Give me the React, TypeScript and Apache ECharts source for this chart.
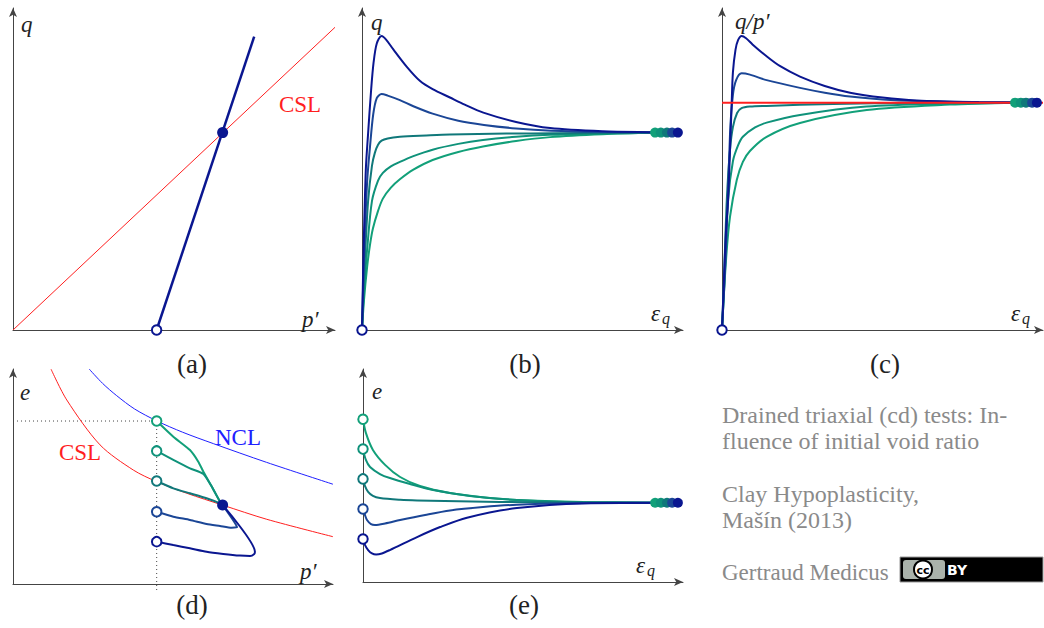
import React, { useEffect, useRef } from 'react';
import * as echarts from 'echarts';

// colours from loosest (green) to densest (navy)
const COLORS = ['#12a079', '#0f927a', '#10787a', '#1b4696', '#0a1690'];
const RED = '#ff1f1f';
const BLUE = '#2020ff';
const AXIS = '#444444';
const TEXT = '#222222';
const GREY = '#8a8a8a';

// ---------- panel (a): q – p'
const A_CSL = [[0, 0], [100, 94]];
const A_PATH = [[44.6, 0], [74.9, 91.1]];
const A_START = [44.6, 0];
const A_END = [65.1, 61.3];

// ---------- panel (b): q – eps_q (loosest -> densest)
const B_CURVES = [
  [[0, 0], [0.6, 9], [1.6, 19.6], [2.5, 26.5], [3.4, 31.5], [5, 37], [6.5, 40.8], [9, 44.2], [11.8, 46.8], [16, 49.8], [22, 52.8], [30, 55.3], [37.7, 57], [48, 58.7], [58.6, 59.9], [75, 60.8], [91.3, 61.3]],
  [[0, 0], [0.6, 12], [1.6, 25], [3.1, 40], [5, 46.4], [6.5, 48.8], [9, 50.8], [11.8, 52.2], [16, 54], [22, 56], [30, 57.8], [37.7, 59], [48, 60], [58.6, 60.6], [75, 61], [93.1, 61.3]],
  [[0, 0], [0.9, 22], [1.9, 40], [3.1, 51], [4, 55], [5, 57.5], [6.1, 58.8], [8, 59.5], [11.8, 60], [20, 60.4], [27.4, 60.7], [45, 61], [60, 61.1], [80, 61.2], [95, 61.3]],
  [[0, 0], [0.6, 22], [1.6, 46], [2.5, 57], [3.5, 67], [4.6, 72], [6.1, 73.3], [8, 72.8], [11.8, 71.4], [16, 69.5], [22, 67.2], [30, 65], [38, 63.7], [48, 62.6], [59, 61.9], [75, 61.5], [96.6, 61.3]],
  [[0, 0], [0.5, 25], [1.2, 50], [1.9, 61], [2.8, 74], [3.6, 83], [4.6, 89], [6.1, 91.3], [7.5, 90.2], [9.7, 87.2], [13.9, 81.8], [18.1, 77.3], [22, 74.8], [27.4, 72.2], [32, 70], [37.8, 67.5], [48, 64.6], [58.6, 62.7], [75, 61.7], [90, 61.4], [98.4, 61.3]],
];

// ---------- panel (c): q/p' – eps_q
const C_M = 70.6;
const C_CURVES = [
  [[0, 0], [1.25, 21.7], [2.5, 35.2], [4.6, 46.6], [6.5, 52.2], [8.7, 55.6], [13.9, 60], [24.3, 64.3], [45.1, 68.3], [71, 70], [91.3, 70.6]],
  [[0, 0], [0.9, 18.6], [1.9, 40.4], [3.4, 52.4], [5, 57.3], [6.5, 60], [10.3, 62.9], [13.9, 64.4], [24.3, 66.8], [45, 69.4], [71, 70.3], [93.1, 70.6]],
  [[0, 0], [0.6, 15.5], [1.5, 40.4], [2.5, 56], [3.4, 63], [4.7, 67.4], [6.1, 68.9], [8.7, 69.4], [13.9, 69.6], [34.6, 70.2], [60, 70.5], [94.7, 70.6]],
  [[0, 0], [1.25, 25], [2.5, 61], [3.4, 73], [4.4, 77.6], [6.1, 79.7], [8.7, 79.3], [13.9, 77.6], [24.3, 75.2], [32, 73.7], [39.9, 72.5], [50, 71.6], [60.7, 71.1], [80, 70.7], [96.6, 70.6]],
  [[0, 0], [0.6, 15.5], [1.25, 31], [1.9, 40.4], [2.5, 56], [3, 70], [3.4, 80], [4.2, 87], [5, 90], [6.1, 91.3], [7.5, 90.6], [9.5, 88.7], [13.9, 85], [18, 82], [24.3, 78.7], [32, 75.8], [39.9, 73.7], [50, 72.2], [60.7, 71.3], [80, 70.8], [98.1, 70.6]],
];

// ---------- panel (d): e – p'
const D_NCL = [[23.8, 100], [28, 93.3], [32.4, 87.6], [38, 81.4], [45, 75.8], [53, 70.6], [62.6, 65.3], [79.2, 56.6], [100, 46.4]];
const D_CSL = [[11.9, 99.9], [16.8, 85.6], [27.2, 64.7], [37.6, 53], [44.9, 47.6], [54.3, 42.2], [65.5, 36.7], [79.3, 30.1], [100, 22]];
const D_PATHS = [
  [[44.9, 75.8], [50.1, 68.5], [55.3, 62.3], [57.9, 56.9], [59.5, 52.2], [62.1, 45.3], [64.7, 38.3], [65.5, 36.7]],
  [[44.9, 61.9], [50.1, 57.7], [55.3, 53.8], [59.5, 51.2], [62.1, 45.3], [64.7, 38.3], [65.5, 36.7]],
  [[44.9, 47.9], [50.1, 44.5], [55.3, 42.2], [60.5, 39.9], [64.7, 37.5], [65.5, 36.7]],
  [[44.9, 33.6], [50.1, 31.3], [55.3, 29.8], [60.5, 27.9], [64.7, 27], [68.3, 26.2], [70, 26.4], [65.5, 36.7]],
  [[44.9, 19.7], [50.1, 18.1], [55.3, 16.6], [60.5, 15], [65.7, 14], [70.9, 13.2], [74.1, 13], [75.4, 14], [75.6, 15], [65.5, 36.7]],
];
const D_P0 = 44.9;
const D_E0 = 75.8;
const D_END = [65.5, 36.7];

// ---------- panel (e): e – eps_q
const E_CURVES = [
  [[0, 76.4], [0.9, 70], [3.1, 62], [6.9, 55], [11.6, 49.3], [17.8, 45.1], [27.2, 41.8], [38.1, 39.7], [48.1, 38.5], [68.8, 37.6], [91.3, 37.2]],
  [[0, 62.4], [0.9, 57.3], [2.2, 54], [5.3, 50.7], [8.4, 48.8], [14.7, 46], [21.9, 43.2], [33.4, 40.4], [48.1, 38.5], [68.8, 37.4], [93.1, 37.2]],
  [[0, 48.4], [0.6, 45.1], [1.6, 42.3], [3.1, 40.4], [5.3, 39.4], [11.6, 38.6], [16.9, 38.3], [42.8, 37.6], [95, 37.2]],
  [[0, 34.3], [0.6, 31.5], [1.25, 29.1], [2.5, 27.2], [3.75, 26.8], [6.9, 27.5], [11.6, 29.1], [19.4, 31.5], [27.2, 33.6], [37.5, 35.2], [48.1, 36.3], [68.8, 37.1], [96.6, 37.2]],
  [[0, 20.2], [0.6, 17.4], [1.6, 15], [2.8, 13.4], [4.1, 12.9], [5.9, 13.4], [8.4, 15], [16.9, 21.1], [24.1, 25.8], [32.5, 30.2], [48.1, 34.7], [68.8, 36.9], [98.4, 37.2]],
];

const PANEL_LABELS = ['(a)', '(b)', '(c)', '(d)', '(e)'];
const INFO_LINES = ['Drained triaxial (cd) tests: In-', 'fluence of initial void ratio', 'Clay Hypoplasticity,', 'Mašín (2013)', 'Gertraud Medicus'];

const SERIF = "'Liberation Serif', 'DejaVu Serif', serif";

function buildOption() {
  const grids = [
    { left: 13, top: 8, width: 322, height: 322 },
    { left: 362, top: 8, width: 321, height: 322 },
    { left: 722, top: 8, width: 321, height: 322 },
    { left: 13, top: 369, width: 320, height: 215 },
    { left: 363, top: 369, width: 320, height: 213 },
  ];
  const axis = (gi: number) => ({
    gridIndex: gi, type: 'value', min: 0, max: 100,
    axisLine: { show: true, onZero: false, lineStyle: { color: AXIS, width: 1 }, symbol: ['none', 'arrow'], symbolSize: [6, 9] },
    axisTick: { show: false }, axisLabel: { show: false }, splitLine: { show: false },
  });
  const line = (gi: number, data: number[][], color: string, width: number, extra: any = {}) => ({
    type: 'line', xAxisIndex: gi, yAxisIndex: gi, data, showSymbol: false, symbol: 'none',
    smooth: 0.3, clip: false, silent: true, lineStyle: { color, width }, z: 3, ...extra,
  });
  const dot = (gi: number, p: number[], color: string, size = 11, z = 6) => ({
    type: 'scatter', xAxisIndex: gi, yAxisIndex: gi, data: [p], symbol: 'circle', symbolSize: size,
    itemStyle: { color, opacity: 1 }, silent: true, clip: false, z,
  });
  const ring = (gi: number, p: number[], color: string, z = 7) => ({
    type: 'scatter', xAxisIndex: gi, yAxisIndex: gi, data: [p], symbol: 'circle', symbolSize: 9.5,
    itemStyle: { color: '#ffffff', borderColor: color, borderWidth: 2, opacity: 1 }, silent: true, clip: false, z,
  });

  const series: any[] = [];
  // (a)
  series.push(line(0, A_CSL, RED, 1, { smooth: false }));
  series.push(line(0, A_PATH, COLORS[4], 2.5, { smooth: false }));
  series.push(dot(0, A_END, COLORS[4]));
  series.push(ring(0, A_START, COLORS[4]));
  // (b)
  B_CURVES.forEach((c, i) => series.push(line(1, c, COLORS[i], 2)));
  B_CURVES.forEach((c, i) => series.push(dot(1, c[c.length - 1], COLORS[i], 10)));
  series.push(ring(1, [0, 0], COLORS[4]));
  // (c)
  C_CURVES.forEach((c, i) => series.push(line(2, c, COLORS[i], 2)));
  series.push(line(2, [[0, C_M], [100, C_M]], RED, 2, { smooth: false, z: 4 }));
  C_CURVES.forEach((c, i) => series.push(dot(2, c[c.length - 1], COLORS[i], 10)));
  series.push(ring(2, [0, 0], COLORS[4]));
  // (d)
  series.push(line(3, [[0, D_E0], [D_P0, D_E0]], AXIS, 1, { smooth: false, lineStyle: { color: AXIS, width: 1, type: [1, 3] } }));
  series.push(line(3, [[D_P0, D_E0], [D_P0, -3.7]], AXIS, 1, { smooth: false, lineStyle: { color: AXIS, width: 1, type: [1, 3] } }));
  series.push(line(3, D_NCL, BLUE, 1));
  series.push(line(3, D_CSL, RED, 1));
  D_PATHS.forEach((c, i) => series.push(line(3, c, COLORS[i], 2, { smooth: 0.2 })));
  D_PATHS.forEach((c, i) => series.push(ring(3, c[0], COLORS[i])));
  series.push(dot(3, D_END, COLORS[4]));
  // (e)
  E_CURVES.forEach((c, i) => series.push(line(4, c, COLORS[i], 2)));
  E_CURVES.forEach((c, i) => series.push(dot(4, c[c.length - 1], COLORS[i], 10)));
  E_CURVES.forEach((c, i) => series.push(ring(4, c[0], COLORS[i])));

  const txt = (x: number, y: number, text: string, opts: any = {}) => {
    const size = opts.size || 20;
    const st = opts.italic ? 'italic' : 'normal';
    return {
      type: 'text', x, y, silent: true, z: 10,
      style: {
        text, fill: opts.fill || TEXT,
        font: `${st} normal ${size}px ${SERIF}`,
        fontSize: size, fontFamily: SERIF, fontStyle: st,
        align: opts.align || 'left', textAlign: opts.align || 'left',
        verticalAlign: 'middle', textVerticalAlign: 'middle',
      },
    };
  };
  const eps = (x: number, y: number) => [txt(x, y, 'ε', { italic: true, size: 23 }), txt(x + 11, y + 5, 'q', { italic: true, size: 16 })];

  const graphic: any[] = [
    // axis labels
    txt(21, 24, 'q', { italic: true, size: 23 }),
    txt(302, 319, 'p′', { italic: true, size: 23 }),
    txt(300, 104, 'CSL', { fill: RED, align: 'center', size: 23 }),
    txt(371, 22, 'q', { italic: true, size: 23 }),
    ...eps(651, 313),
    txt(735, 21, 'q/p′', { italic: true, size: 23 }),
    ...eps(1011, 313),
    txt(20, 392, 'e', { italic: true, size: 23 }),
    txt(300, 571, 'p′', { italic: true, size: 23 }),
    txt(80, 452, 'CSL', { fill: RED, align: 'center', size: 23 }),
    txt(238, 437, 'NCL', { fill: BLUE, align: 'center', size: 23 }),
    txt(372, 391, 'e', { italic: true, size: 23 }),
    ...eps(636, 565),
    // panel labels
    txt(192, 364, PANEL_LABELS[0], { align: 'center', size: 27 }),
    txt(525, 364, PANEL_LABELS[1], { align: 'center', size: 27 }),
    txt(885, 364, PANEL_LABELS[2], { align: 'center', size: 27 }),
    txt(192, 605, PANEL_LABELS[3], { align: 'center', size: 27 }),
    txt(524, 605, PANEL_LABELS[4], { align: 'center', size: 27 }),
    // info text
    txt(722, 415, INFO_LINES[0], { fill: GREY, size: 24 }),
    txt(722, 441, INFO_LINES[1], { fill: GREY, size: 24 }),
    txt(722, 494, INFO_LINES[2], { fill: GREY, size: 24 }),
    txt(722, 520, INFO_LINES[3], { fill: GREY, size: 24 }),
    txt(722, 572, INFO_LINES[4], { fill: GREY, size: 23 }),
    // CC BY badge
    { type: 'rect', shape: { x: 900, y: 557, width: 143, height: 25 }, style: { fill: '#000000', stroke: '#9a9a9a', lineWidth: 1 }, z: 10, silent: true },
    { type: 'rect', shape: { x: 903, y: 560, width: 42, height: 19, r: 3 }, style: { fill: '#aab2ab' }, z: 11, silent: true },
    { type: 'circle', shape: { cx: 923, cy: 569.5, r: 9 }, style: { fill: '#ffffff', stroke: '#000000', lineWidth: 2 }, z: 12, silent: true },
    {
      type: 'text', x: 923, y: 570, z: 13, silent: true,
      style: { text: 'cc', fill: '#000000', font: 'normal bold 11px DejaVu Sans', fontSize: 11, fontWeight: 'bold', fontFamily: 'DejaVu Sans', align: 'center', textAlign: 'center', verticalAlign: 'middle', textVerticalAlign: 'middle' },
    },
    {
      type: 'text', x: 947, y: 570, z: 13, silent: true,
      style: { text: 'BY', fill: '#ffffff', font: 'normal bold 14px DejaVu Sans', fontSize: 14, fontWeight: 'bold', fontFamily: 'DejaVu Sans', align: 'left', textAlign: 'left', verticalAlign: 'middle', textVerticalAlign: 'middle' },
    },
  ];

  return {
    animation: false,
    backgroundColor: '#ffffff',
    grid: grids,
    xAxis: grids.map((_, i) => ({ ...axis(i), position: 'bottom' })),
    yAxis: grids.map((_, i) => ({ ...axis(i), position: 'left' })),
    series,
    graphic,
  };
}

export default function App() {
  const ref = useRef<HTMLDivElement>(null);
  useEffect(() => {
    const chart = echarts.init(ref.current!, null, { renderer: 'svg' });
    chart.setOption(buildOption() as any);
    return () => chart.dispose();
  }, []);
  return <div ref={ref} style={{ position: 'fixed', left: 0, top: 0, width: 1044, height: 628 }} />;
}
